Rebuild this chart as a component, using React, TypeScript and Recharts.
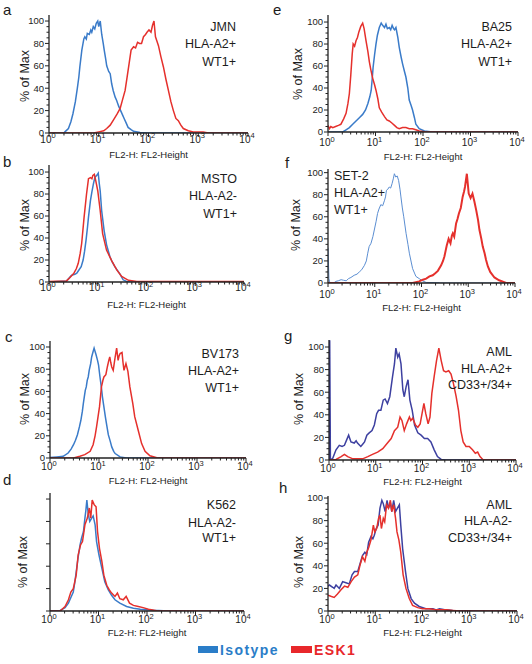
import { Line, LineChart, XAxis, YAxis } from 'recharts';

// FL2-H values are stored as log10 decades (0 = 10^0 ... 4 = 10^4), y as % of max
const aIsotype = [[0,0],[0.3,0],[0.32,1],[0.39,4],[0.44,10],[0.48,17],[0.53,28],[0.57,40],[0.6,50],[0.62,59],[0.66,74],[0.7,84],[0.72,86],[0.75,84],[0.77,89],[0.81,88],[0.84,92],[0.86,90],[0.89,95],[0.92,93],[0.95,98],[0.98,100],[1.0,95],[1.03,100],[1.06,88],[1.09,80],[1.11,74],[1.14,66],[1.16,60],[1.2,55],[1.23,53],[1.26,44],[1.29,38],[1.33,32],[1.36,29],[1.4,24],[1.44,20],[1.48,16],[1.51,13],[1.55,9],[1.59,5],[1.65,3],[1.7,1.5],[1.83,0.5],[2.0,0],[4,0]];
const aEsk1 = [[0,0],[0.9,0],[1.0,1],[1.1,2],[1.16,4],[1.23,7],[1.3,12],[1.37,17],[1.43,22],[1.48,30],[1.53,38],[1.57,50],[1.61,62],[1.65,74],[1.7,77],[1.74,76],[1.78,81],[1.82,80],[1.86,80],[1.9,86],[1.94,88],[1.97,90],[2.01,92],[2.05,90],[2.08,96],[2.11,100],[2.14,86],[2.17,82],[2.2,78],[2.25,68],[2.3,59],[2.35,48],[2.4,38],[2.45,28],[2.5,20],[2.55,13],[2.6,11],[2.65,7],[2.7,4],[2.8,2],[2.9,1],[3.1,1],[3.2,0],[4,0]];

const bIsotype = [[0,0],[0.36,1],[0.46,6],[0.53,7],[0.57,8],[0.6,10],[0.66,14],[0.7,20],[0.73,28],[0.76,38],[0.79,50],[0.81,59],[0.85,74],[0.88,82],[0.91,89],[0.94,95],[0.98,97],[1.01,99],[1.03,90],[1.05,83],[1.08,65],[1.13,47],[1.18,34],[1.25,23],[1.3,18],[1.35,14],[1.46,7],[1.52,2],[1.59,0.5],[1.7,0],[4,0]];
const bEsk1 = [[0,0.5],[0.36,1],[0.43,4],[0.51,8],[0.56,12],[0.6,17],[0.64,26],[0.67,35],[0.72,59],[0.77,80],[0.81,94],[0.85,95],[0.88,94],[0.9,97],[0.93,98],[0.96,92],[1.0,83],[1.05,65],[1.1,44],[1.18,29],[1.29,19],[1.39,11],[1.49,5],[1.63,1.5],[1.8,0.5],[4,0.5]];

const cIsotype = [[0,0.5],[0.14,1],[0.27,1.5],[0.37,4.5],[0.43,8],[0.48,12],[0.52,16],[0.56,21],[0.6,28],[0.63,34],[0.66,42],[0.68,49],[0.7,55],[0.72,61],[0.74,64],[0.76,70],[0.78,73],[0.8,79],[0.83,85],[0.85,91],[0.88,96],[0.9,99],[0.92,96],[0.94,93],[0.97,88],[0.99,84],[1.02,73],[1.05,63],[1.07,55],[1.1,46],[1.13,37],[1.16,29],[1.19,21],[1.23,15],[1.26,10],[1.3,6],[1.33,4],[1.43,1],[1.56,0],[4,0]];
const cEsk1 = [[0,0],[0.48,0],[0.61,1.5],[0.71,3],[0.82,6],[0.88,12],[0.92,20],[0.95,28],[0.98,37],[1.01,46],[1.05,64],[1.08,70],[1.1,73],[1.14,75],[1.17,82],[1.2,88],[1.22,91],[1.24,86],[1.26,82],[1.29,79],[1.31,85],[1.33,91],[1.36,99],[1.39,88],[1.41,92],[1.43,94],[1.47,95],[1.49,86],[1.51,79],[1.55,85],[1.59,78],[1.63,64],[1.69,49],[1.73,37],[1.8,25],[1.87,13],[1.94,6],[2.04,2],[2.18,0.3],[2.3,0],[4,0]];

const dIsotype = [[0,0],[0.21,0.5],[0.31,3],[0.38,7],[0.41,10],[0.48,17],[0.51,25],[0.55,38],[0.58,48],[0.62,59],[0.65,65],[0.69,71],[0.72,83],[0.74,90],[0.76,99],[0.79,86],[0.82,80],[0.86,83],[0.89,85],[0.93,77],[0.96,62],[1.01,50],[1.07,38],[1.13,26],[1.2,19],[1.27,14],[1.34,10],[1.44,7],[1.58,4],[1.72,2.4],[1.86,1.5],[1.99,1.2],[2.13,0.6],[2.34,0.3],[2.5,0],[4,0]];
const dEsk1 = [[0,0],[0.21,0],[0.31,4],[0.38,10],[0.43,17],[0.48,20],[0.54,32],[0.58,50],[0.63,59],[0.67,62],[0.72,77],[0.77,83],[0.81,92],[0.84,83],[0.87,99],[0.91,95],[0.95,93],[0.98,71],[1.02,56],[1.07,44],[1.11,32],[1.17,23],[1.22,19],[1.27,16],[1.34,13],[1.39,16],[1.44,11],[1.51,10],[1.57,13],[1.64,7],[1.72,5],[1.82,4],[1.92,3],[2.03,1.5],[2.2,0.3],[2.4,0],[4,0]];

const eIsotype = [[0,0],[0.31,0],[0.38,2],[0.45,4],[0.52,7],[0.59,10],[0.66,13],[0.73,16],[0.79,20],[0.84,26],[0.88,32],[0.91,38],[0.93,48],[0.95,59],[0.98,70],[1.01,80],[1.04,88],[1.08,95],[1.12,99],[1.15,97],[1.19,95],[1.22,98],[1.25,94],[1.29,95],[1.32,93],[1.35,97],[1.38,94],[1.4,93],[1.43,95],[1.47,86],[1.5,77],[1.54,68],[1.57,62],[1.61,55],[1.64,50],[1.68,40],[1.71,29],[1.75,24],[1.78,20],[1.82,13],[1.85,7],[1.92,3],[2.03,1],[2.2,0],[4,0]];
const eEsk1 = [[0,6],[0.03,3],[0.06,5],[0.1,4],[0.16,5],[0.22,6],[0.27,7],[0.33,12],[0.38,17],[0.42,26],[0.45,35],[0.48,52],[0.51,71],[0.53,80],[0.56,78],[0.59,83],[0.62,86],[0.65,91],[0.69,96],[0.73,99],[0.76,94],[0.8,83],[0.84,73],[0.87,64],[0.9,57],[0.94,49],[0.98,43],[1.01,38],[1.05,30],[1.08,22],[1.13,18],[1.19,14],[1.24,11],[1.29,10],[1.35,8],[1.4,6],[1.45,4],[1.5,3],[1.57,4],[1.64,4],[1.71,3],[1.78,3],[1.85,2],[1.92,1],[2.06,0],[4,0]];

const fIsotype = [[0,32],[0.02,4],[0.04,0],[0.12,0],[0.17,1.5],[0.22,2],[0.28,3],[0.33,2.5],[0.39,2],[0.44,4],[0.49,5],[0.56,7],[0.62,8],[0.67,10],[0.72,12],[0.78,16],[0.82,20],[0.85,27],[0.88,33],[0.92,36],[0.96,42],[0.99,48],[1.03,56],[1.06,63],[1.09,67],[1.13,71],[1.17,70],[1.21,75],[1.23,78],[1.25,84],[1.28,85],[1.31,87],[1.34,86],[1.37,90],[1.4,95],[1.42,99],[1.45,96],[1.48,97],[1.51,93],[1.54,85],[1.56,78],[1.59,68],[1.62,60],[1.67,45],[1.71,35],[1.74,27],[1.78,19],[1.81,13],[1.85,9],[1.88,6],[1.95,4],[2.02,2],[2.1,0.5],[2.38,0.3],[2.4,0],[4,0]];
const fEsk1 = [[0,0],[1.81,0],[1.95,1.5],[2.03,3],[2.1,4],[2.17,6],[2.24,7],[2.3,9],[2.35,11],[2.42,16],[2.46,20],[2.49,24],[2.52,30],[2.54,34],[2.58,40],[2.62,36],[2.65,43],[2.67,45],[2.7,42],[2.74,54],[2.77,58],[2.8,63],[2.84,68],[2.88,78],[2.91,83],[2.93,87],[2.97,99],[3.01,81],[3.05,77],[3.09,81],[3.13,74],[3.17,66],[3.21,57],[3.24,48],[3.28,40],[3.31,33],[3.35,27],[3.38,21],[3.42,15],[3.47,10],[3.56,5],[3.66,2.5],[3.81,0],[4,0]];

const gIsotype = [[0,0],[0.015,106],[0.03,0],[0.08,1.5],[0.15,9],[0.22,13],[0.28,12],[0.33,13],[0.38,18],[0.42,22],[0.47,16],[0.54,15],[0.58,17],[0.61,15],[0.68,12],[0.72,14],[0.76,16],[0.81,22],[0.86,24],[0.92,26],[0.97,31],[1.02,41],[1.06,44],[1.11,44],[1.16,53],[1.2,54],[1.25,50],[1.3,56],[1.36,74],[1.4,85],[1.43,99],[1.47,91],[1.5,94],[1.54,85],[1.58,62],[1.61,56],[1.65,65],[1.69,71],[1.73,53],[1.78,44],[1.83,31],[1.9,24],[1.97,22],[2.04,19],[2.11,19],[2.18,16],[2.25,9],[2.32,3],[2.4,0.5],[2.5,0],[4,0]];
const gEsk1 = [[0,0],[0.15,0.5],[0.26,3],[0.33,5],[0.4,3],[0.51,1],[0.72,1],[0.83,3],[0.93,5],[1.04,7],[1.15,10],[1.25,15],[1.33,19],[1.4,26],[1.47,29],[1.52,38],[1.56,35],[1.61,26],[1.66,32],[1.72,38],[1.75,35],[1.79,37],[1.85,31],[1.9,29],[1.95,32],[1.99,41],[2.03,50],[2.07,41],[2.12,32],[2.16,38],[2.2,59],[2.25,74],[2.3,88],[2.35,99],[2.4,88],[2.45,79],[2.5,78],[2.56,79],[2.61,76],[2.66,68],[2.72,56],[2.77,44],[2.82,26],[2.87,16],[2.93,12],[3.0,12],[3.07,9],[3.13,6],[3.18,7],[3.23,3],[3.29,0.5],[3.36,0],[4,0]];

const hIsotype = [[0,22],[0.03,23],[0.1,21],[0.13,20],[0.17,23],[0.24,20],[0.31,26],[0.38,25],[0.45,24],[0.51,32],[0.56,35],[0.63,35],[0.68,42],[0.73,49],[0.78,52],[0.82,50],[0.86,61],[0.91,66],[0.95,64],[0.98,67],[1.02,73],[1.06,76],[1.1,91],[1.14,98],[1.17,95],[1.21,88],[1.25,98],[1.28,91],[1.32,96],[1.35,88],[1.39,98],[1.43,88],[1.47,91],[1.51,94],[1.54,76],[1.58,55],[1.64,35],[1.69,20],[1.76,11],[1.83,7],[1.93,4],[2.07,2],[2.22,2],[2.29,1],[2.36,2],[2.5,1],[2.64,0.5],[2.92,0.3],[3.2,0],[4,0]];
const hEsk1 = [[0,14],[0.06,13],[0.13,12],[0.2,15],[0.28,19],[0.35,22],[0.42,21],[0.49,26],[0.56,30],[0.63,32],[0.68,41],[0.73,48],[0.78,44],[0.82,52],[0.86,56],[0.91,63],[0.96,76],[0.99,70],[1.03,73],[1.07,82],[1.1,85],[1.13,73],[1.17,82],[1.2,79],[1.24,94],[1.28,91],[1.32,98],[1.35,88],[1.39,94],[1.43,82],[1.46,70],[1.5,63],[1.54,52],[1.59,32],[1.65,20],[1.72,11],[1.79,5],[1.9,3],[2.0,2],[2.14,2],[2.29,1],[2.5,1],[2.64,0.5],[2.8,0],[4,0]];

const DECADES = [0, 1, 2, 3, 4];
const MINOR_FACTORS = [2, 3, 4, 5, 6, 7, 8, 9];
const Y_MAJOR = [0, 20, 40, 60, 80, 100];
const Y_ALL = [0, 5, 10, 15, 20, 25, 30, 35, 40, 45, 50, 55, 60, 65, 70, 75, 80, 85, 90, 95, 100];
const LEGEND = [
  { name: 'Isotype', color: '#2a7dc8' },
  { name: 'ESK1', color: '#e8272b' }
];

const X_TICKS = [
  ...DECADES,
  ...DECADES.slice(0, 4).flatMap((d) => MINOR_FACTORS.map((k) => d + Math.log10(k)))
];

const INK = '#1c1c1c';
const AXIS = '#222';
const FONT = '"Liberation Sans", Arial, sans-serif';
const BLUE = '#3a7bc9';
const NAVY = '#3d40a0';
const RED = '#e5302c';

const Y_W = 40;
const X_H = 20;
const PAD_R = 12;
const PAD_T = 8;

const panels = [
  { id: 'a', iso: aIsotype, esk: aEsk1, L: 49, R: 248, top: 15, y0: 133, yTop: 105.4, xDy: 9.5, titleDy: 25, isoColor: BLUE, letter: [3, 15], yLabel: [25, 76], note: ['JMN', 'HLA-A2+', 'WT1+'], noteX: 236, noteY: [30.5, 48.3, 66], anchor: 'end' },
  { id: 'e', iso: eIsotype, esk: eEsk1, L: 328, R: 518, top: 15, y0: 132, yTop: 106.4, xDy: 14, titleDy: 28, isoColor: BLUE, letter: [273, 15], yLabel: [298, 74], note: ['BA25', 'HLA-A2+', 'WT1+'], noteX: 512, noteY: [31, 48, 66], anchor: 'end' },
  { id: 'b', iso: bIsotype, esk: bEsk1, L: 49, R: 244, top: 165, y0: 282, yTop: 106.4, xDy: 9, titleDy: 26, isoColor: BLUE, letter: [3, 167], yLabel: [25, 225], note: ['MSTO', 'HLA-A2-', 'WT1+'], noteX: 237, noteY: [182.5, 200, 218], anchor: 'end' },
  { id: 'f', iso: fIsotype, esk: fEsk1, L: 328, R: 515, top: 169, y0: 283, yTop: 103.3, xDy: 15, titleDy: 28, isoColor: '#5b8ed2', isoWidth: 1, eskWidth: 2, letter: [285, 168], yLabel: [296, 225], note: ['SET-2', 'HLA-A2+', 'WT1+'], noteX: 334, noteY: [179.5, 196.5, 214], anchor: 'start' },
  { id: 'c', iso: cIsotype, esk: cEsk1, L: 50, R: 246, top: 341, y0: 458, yTop: 105.4, xDy: 12, titleDy: 26, isoColor: BLUE, letter: [5, 342], yLabel: [25, 399], note: ['BV173', 'HLA-A2+', 'WT1+'], noteX: 239, noteY: [358, 375, 392], anchor: 'end' },
  { id: 'g', iso: gIsotype, esk: gEsk1, L: 329, R: 516, top: 340, y0: 460, yTop: 106.2, xDy: 12, titleDy: 25, isoColor: NAVY, letter: [284, 341], yLabel: [299, 399], note: ['AML', 'HLA-A2+', 'CD33+/34+'], noteX: 512, noteY: [356, 373, 389], anchor: 'end' },
  { id: 'd', iso: dIsotype, esk: dEsk1, L: 50, R: 244, top: 493, y0: 611, yTop: 105.4, xDy: 12, titleDy: 25, isoColor: BLUE, noYLabels: true, letter: [3, 485], yLabel: [23, 562], note: ['K562', 'HLA-A2-', 'WT1+'], noteX: 236, noteY: [508.5, 526.5, 541.5], anchor: 'end' },
  { id: 'h', iso: hIsotype, esk: hEsk1, L: 328, R: 517, top: 496, y0: 611, yTop: 101.8, xDy: 12, titleDy: 25, isoColor: NAVY, letter: [279, 493], yLabel: [299, 562], note: ['AML', 'HLA-A2-', 'CD33+/34+'], noteX: 512, noteY: [508.5, 525, 542], anchor: 'end' }
];

function toPoints(series: number[][]) {
  return series.map(([x, y]) => ({ x, y }));
}

function XTick({ x, y, payload, dy }: any) {
  const v = payload.value;
  const major = Math.abs(v - Math.round(v)) < 1e-6;
  return (
    <g>
      <line x1={x} x2={x} y1={y} y2={y + (major ? 4 : 2.5)} stroke={AXIS} strokeWidth={1} />
      {major && (
        <text x={x - 1} y={y + dy} textAnchor="middle" fontSize={10} fill={INK} fontFamily={FONT}>
          10
          <tspan dy={-4.5} fontSize={7.5}>
            {Math.round(v)}
          </tspan>
        </text>
      )}
    </g>
  );
}

function YTick({ x, y, payload, showLabels }: any) {
  const v = payload.value;
  const major = v % 20 === 0;
  return (
    <g>
      <line x1={x} x2={x - (major ? 4 : 2.5)} y1={y} y2={y} stroke={AXIS} strokeWidth={1} />
      {major && showLabels && (
        <text x={x - 5} y={y} dy="0.35em" textAnchor="end" fontSize={9.5} fill={INK} fontFamily={FONT}>
          {v}
        </text>
      )}
    </g>
  );
}

function Histogram({ p }: { p: any }) {
  const plotW = p.R - p.L;
  const plotH = p.y0 - p.top;
  const width = Y_W + plotW + PAD_R;
  const height = PAD_T + plotH + X_H;

  return (
    <div style={{ position: 'absolute', left: p.L - Y_W, top: p.top - PAD_T, width, height }}>
      <LineChart width={width} height={height} margin={{ top: PAD_T, right: PAD_R, bottom: 0, left: 0 }}>
        <XAxis
          type="number"
          dataKey="x"
          domain={[0, 4]}
          ticks={X_TICKS}
          interval={0}
          allowDataOverflow
          height={X_H}
          tickSize={0}
          tickMargin={0}
          tickLine={false}
          axisLine={{ stroke: AXIS, strokeWidth: 1.3 }}
          tick={(props: any) => <XTick {...props} dy={p.xDy} />}
        />
        <XAxis xAxisId="frame" orientation="top" type="number" domain={[0, 4]} height={0} tick={false} tickLine={false} axisLine={{ stroke: AXIS, strokeWidth: 1.3 }} />
        <YAxis
          type="number"
          domain={[0, p.yTop]}
          ticks={p.noYLabels ? Y_MAJOR : Y_ALL}
          interval={0}
          allowDataOverflow
          width={Y_W}
          tickSize={0}
          tickMargin={0}
          tickLine={false}
          axisLine={{ stroke: AXIS, strokeWidth: 1.3 }}
          tick={(props: any) => <YTick {...props} showLabels={!p.noYLabels} />}
        />
        <YAxis yAxisId="frame" orientation="right" type="number" domain={[0, 1]} width={0} tick={false} tickLine={false} axisLine={{ stroke: AXIS, strokeWidth: 1.3 }} />
        <Line
          data={toPoints(p.iso)}
          dataKey="y"
          type="linear"
          stroke={p.isoColor}
          strokeWidth={p.isoWidth ?? 1.5}
          dot={false}
          isAnimationActive={false}
        />
        <Line
          data={toPoints(p.esk)}
          dataKey="y"
          type="linear"
          stroke={RED}
          strokeWidth={p.eskWidth ?? 1.5}
          dot={false}
          isAnimationActive={false}
        />
      </LineChart>
    </div>
  );
}

export default function App() {
  return (
    <div style={{ position: 'absolute', left: 0, top: 0, width: 532, height: 664, background: '#fff', overflow: 'hidden' }}>
      {panels.map((p) => (
        <Histogram key={p.id} p={p} />
      ))}

      <svg width={532} height={664} style={{ position: 'absolute', left: 0, top: 0, pointerEvents: 'none' }} fontFamily={FONT}>
        {panels.map((p) => (
          <g key={p.id}>
            <text x={p.letter[0]} y={p.letter[1]} fontSize={15} fill={INK}>
              {p.id}
            </text>
            <text
              transform={`translate(${p.yLabel[0]},${p.yLabel[1]}) rotate(-90)`}
              textAnchor="middle"
              dy="0.35em"
              fontSize={12.5}
              fill={INK}
            >
              % of Max
            </text>
            <text x={(p.L + p.R) / 2} y={p.y0 + p.titleDy} textAnchor="middle" fontSize={9.5} fill={INK}>
              FL2-H: FL2-Height
            </text>
            {p.note.map((line: string, i: number) => (
              <text key={line + i} x={p.noteX} y={p.noteY[i]} textAnchor={p.anchor} fontSize={12.5} fill={INK}>
                {line}
              </text>
            ))}
          </g>
        ))}

        <rect x={198} y={646} width={20} height={7} fill={LEGEND[0].color} />
        <text x={220} y={655} fontSize={14} fontWeight="bold" letterSpacing={1.4} fill={LEGEND[0].color}>
          {LEGEND[0].name}
        </text>
        <rect x={291} y={646} width={21} height={7} fill={LEGEND[1].color} />
        <text x={314} y={655} fontSize={14} fontWeight="bold" letterSpacing={1.4} fill={LEGEND[1].color}>
          {LEGEND[1].name}
        </text>
      </svg>
    </div>
  );
}
